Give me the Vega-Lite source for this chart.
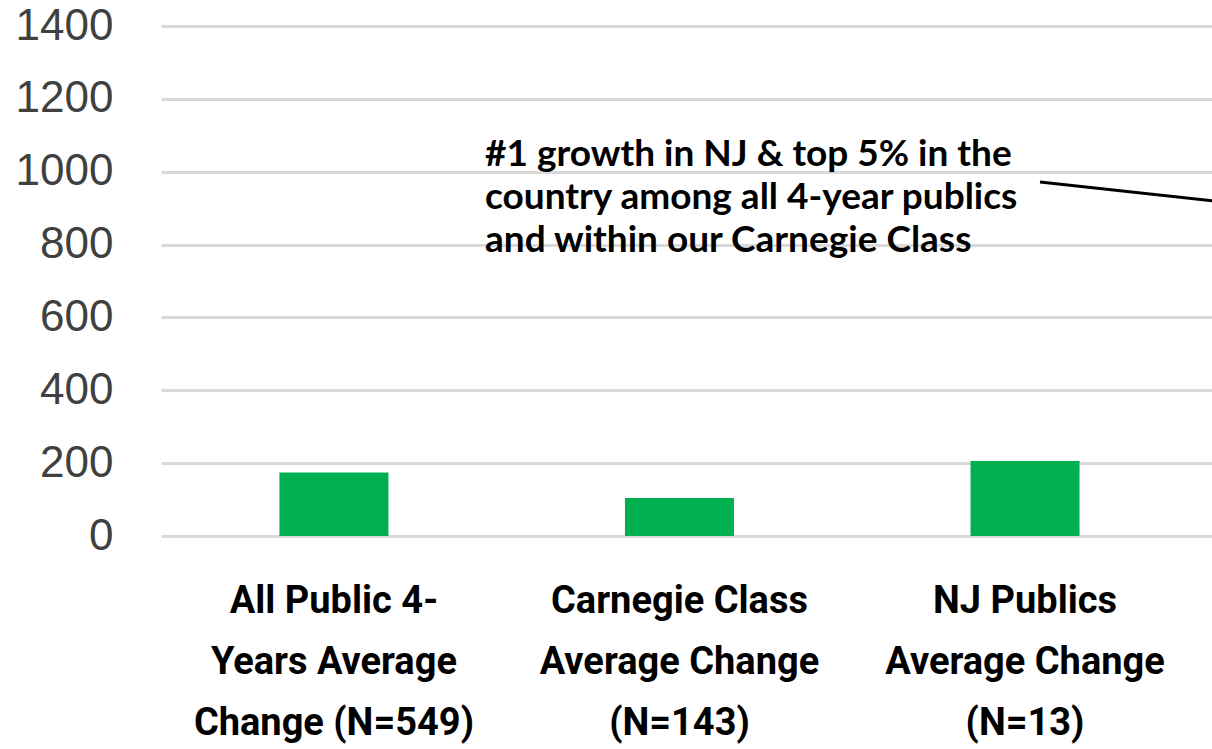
{
  "$schema": "https://vega.github.io/schema/vega-lite/v6.json",
  "width": 1051,
  "height": 510,
  "autosize": {"type": "none"},
  "padding": {"left": 161, "top": 26, "right": 0, "bottom": 213},
  "background": "white",
  "config": {"view": {"stroke": null}},
  "layer": [
    {
      "data": {"values": [
        {"category": "All Public 4-|Years Average|Change (N=549)", "value": 174},
        {"category": "Carnegie Class|Average Change|(N=143)", "value": 104},
        {"category": "NJ Publics|Average Change|(N=13)", "value": 206}
      ]},
      "mark": {"type": "bar", "color": "#00b050"},
      "encoding": {
        "x": {
          "field": "category", "type": "nominal", "sort": null,
          "scale": {"paddingInner": 0.6845, "paddingOuter": 0.363, "align": 0.472},
          "axis": {
            "title": null, "labelExpr": "split(datum.label, '|')", "labelAngle": 0,
            "labelFont": "Roboto", "labelFontWeight": "bold", "labelFontSize": 38,
            "labelColor": "#000000", "labelLineHeight": 61, "labelPadding": 65,
            "labelBaseline": "middle", "domain": false, "ticks": false, "labelLimit": 0
          }
        },
        "y": {
          "field": "value", "type": "quantitative",
          "scale": {"domain": [0, 1400]},
          "axis": {
            "title": null, "values": [0, 200, 400, 600, 800, 1000, 1200, 1400], "format": "d",
            "domain": false, "ticks": false, "grid": true, "gridColor": "#d9d9d9", "gridWidth": 3,
            "labelFont": "Liberation Sans", "labelFontSize": 44, "labelColor": "#404040", "labelPadding": 48
          }
        }
      }
    },
    {
      "data": {"values": [
        {"tx": 0.925, "ty": 1046, "t": "#1 growth in NJ & top 5% in the"},
        {"tx": 0.925, "ty": 928, "t": "country among all 4-year publics"},
        {"tx": 0.925, "ty": 810, "t": "and within our Carnegie Class"}
      ]},
      "mark": {"type": "text", "align": "left", "baseline": "middle", "font": "Lato", "fontWeight": "bold", "fontSize": 37, "color": "#000000"},
      "encoding": {
        "x": {"field": "tx", "type": "quantitative", "scale": {"domain": [0, 3], "nice": false, "zero": false}, "axis": null},
        "y": {"field": "ty", "type": "quantitative", "title": null},
        "text": {"field": "t"}
      }
    },
    {
      "data": {"values": [
        {"lx": 2.509, "lx2": 3.05, "ly": 972, "ly2": 915}
      ]},
      "mark": {"type": "rule", "color": "#000000", "strokeWidth": 3},
      "encoding": {
        "x": {"field": "lx", "type": "quantitative", "scale": {"domain": [0, 3], "nice": false, "zero": false}, "axis": null},
        "x2": {"field": "lx2"},
        "y": {"field": "ly", "type": "quantitative", "title": null},
        "y2": {"field": "ly2"}
      }
    }
  ],
  "resolve": {"scale": {"x": "independent"}}
}
